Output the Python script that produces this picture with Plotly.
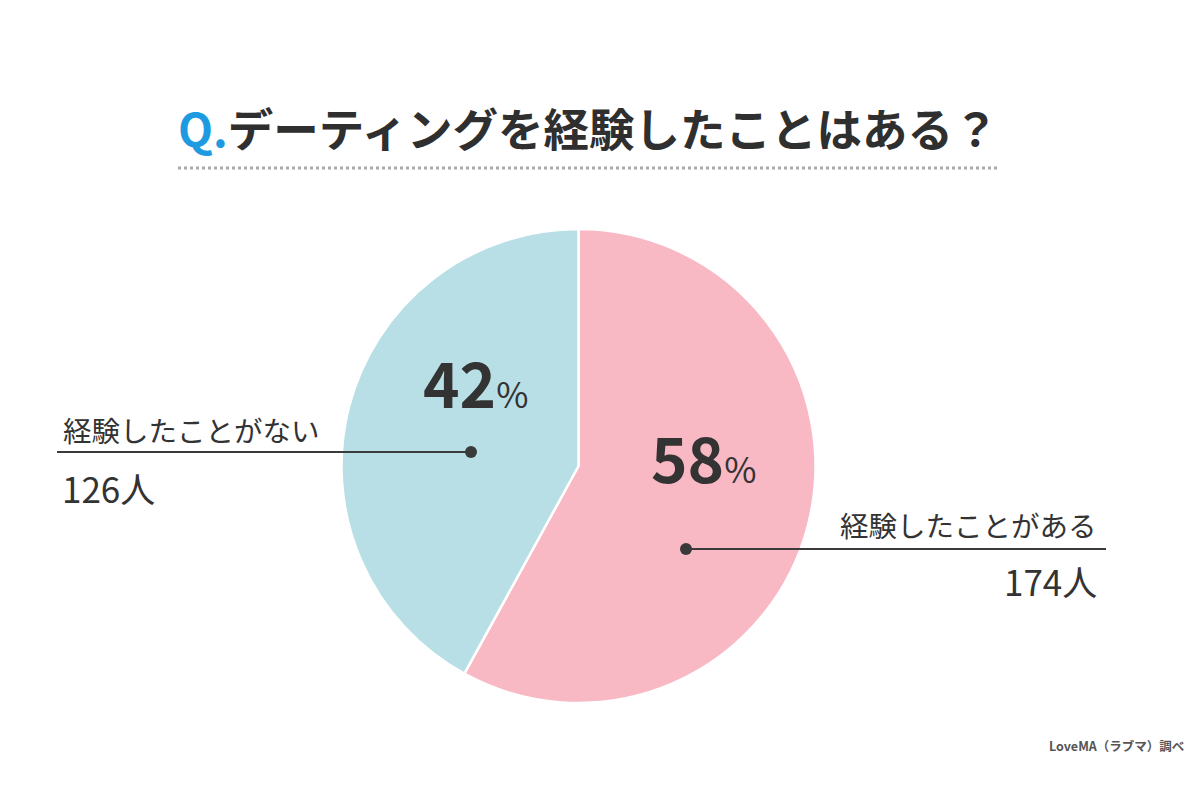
import plotly.graph_objects as go

# Data
categories = ["経験したことがある", "経験したことがない"]
counts = [174, 126]
colors = ["#F8B8C4", "#B8DFE6"]
title_q = "Q."
title_text = "デーティングを経験したことはある？"
source = "LoveMA（ラブマ）調べ"

W, H = 1200, 800
def px(x):
    return x / W
def py(y):
    return 1 - y / H

total = sum(counts)
pcts = [round(c / total * 100) for c in counts]

cx, cy, r = 578.5, 466, 237
fig = go.Figure(go.Pie(
    labels=categories, values=counts, sort=False, direction="clockwise",
    rotation=0, marker=dict(colors=colors, line=dict(color="white", width=2.5)),
    textinfo="none", hoverinfo="skip", showlegend=False,
    domain=dict(x=[px(cx - r), px(cx + r)], y=[py(cy + r), py(cy - r)]),
))

FONT = "Noto Sans CJK JP"
dark = "#333333"
ann = []
# title
ann.append(dict(x=px(588), y=py(127), xref="paper", yref="paper", showarrow=False,
                text=f"<b><span style='color:#1E9BE0'>{title_q}</span>{title_text}</b>",
                font=dict(family=FONT, size=45.5, color="#2f2f2f"), xanchor="center", yanchor="middle"))
# percentages
ann.append(dict(x=px(475), y=py(381), xref="paper", yref="paper", showarrow=False,
                text=f"<b>{pcts[1]}</b><span style='font-size:35px'>%</span>",
                font=dict(family=FONT, size=62, color=dark), xanchor="center", yanchor="middle"))
ann.append(dict(x=px(703), y=py(456), xref="paper", yref="paper", showarrow=False,
                text=f"<b>{pcts[0]}</b><span style='font-size:35px'>%</span>",
                font=dict(family=FONT, size=62, color=dark), xanchor="center", yanchor="middle"))
# left labels
ann.append(dict(x=px(61), y=py(429), xref="paper", yref="paper", showarrow=False,
                text=categories[1], font=dict(family=FONT, size=28.5, color=dark),
                xanchor="left", yanchor="middle"))
ann.append(dict(x=px(60), y=py(487), xref="paper", yref="paper", showarrow=False,
                text=f"{counts[1]}人", font=dict(family=FONT, size=35, color=dark),
                xanchor="left", yanchor="middle"))
# right labels
ann.append(dict(x=px(1099), y=py(524), xref="paper", yref="paper", showarrow=False,
                text=categories[0], font=dict(family=FONT, size=28.5, color=dark),
                xanchor="right", yanchor="middle"))
ann.append(dict(x=px(1099), y=py(580), xref="paper", yref="paper", showarrow=False,
                text=f"{counts[0]}人", font=dict(family=FONT, size=35, color=dark),
                xanchor="right", yanchor="middle"))
# source
ann.append(dict(x=px(1186), y=py(745), xref="paper", yref="paper", showarrow=False,
                text=f"<b>{source}</b>", font=dict(family=FONT, size=12.5, color="#555555"),
                xanchor="right", yanchor="middle"))

shapes = [
    dict(type="line", xref="paper", yref="paper", x0=px(178), x1=px(1000), y0=py(168), y1=py(168),
         line=dict(color="#AAAAAA", width=3, dash="dot")),
    dict(type="line", xref="paper", yref="paper", x0=px(57), x1=px(471), y0=py(452), y1=py(452),
         line=dict(color="#3a3a3a", width=2)),
    dict(type="circle", xref="paper", yref="paper", x0=px(465), x1=px(477), y0=py(458), y1=py(446),
         fillcolor="#3a3a3a", line=dict(width=0)),
    dict(type="line", xref="paper", yref="paper", x0=px(686), x1=px(1106), y0=py(549), y1=py(549),
         line=dict(color="#3a3a3a", width=2)),
    dict(type="circle", xref="paper", yref="paper", x0=px(680), x1=px(692), y0=py(555), y1=py(543),
         fillcolor="#3a3a3a", line=dict(width=0)),
]

fig.update_layout(width=W, height=H, margin=dict(l=0, r=0, t=0, b=0),
                  paper_bgcolor="white", plot_bgcolor="white",
                  annotations=ann, shapes=shapes)
fig.write_html("out.html")
